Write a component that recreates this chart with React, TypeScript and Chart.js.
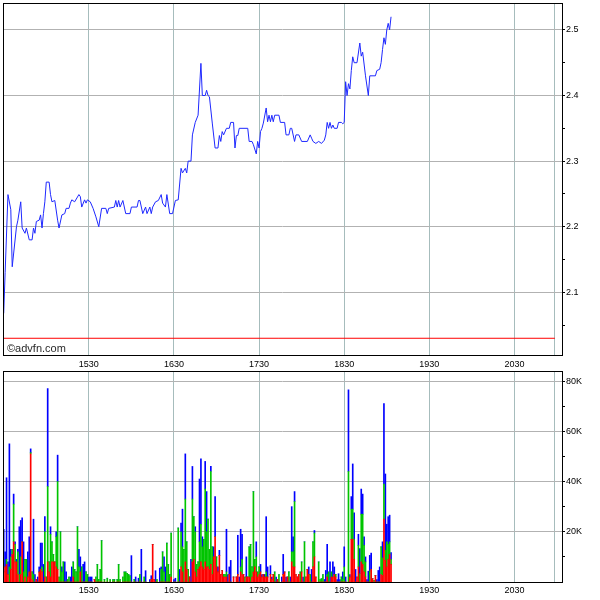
import React, { useEffect, useRef } from 'react';
import { Chart, registerables } from 'chart.js';

Chart.register(...registerables);

// ---- axis / reference values ----
const OPEN_MINUTE = 870; // 14:30, minutes of the day
const X_MIN = -0.5;
const X_MAX = 393.5;
const TIME_TICKS = [60, 120, 180, 240, 300, 360];
const CLOSE_MARK = 388;
const PRICE_MIN = 2.0045;
const PRICE_MAX = 2.541;
const PRICE_TICKS = [2.05, 2.1, 2.15, 2.2, 2.25, 2.3, 2.35, 2.4, 2.45, 2.5];
const REF_PRICE = 2.03;
const VOL_MAX = 84; // thousands
const VOL_TICKS = [10, 20, 30, 40, 50, 60, 70, 80];

// ---- price series (minutes after 14:30, price) ----
const priceTimes = [
  0, 1, 3, 5, 6, 9, 10, 12, 13, 15, 16, 18, 20, 21, 22, 23, 25, 26, 27, 28, 29, 30, 32, 33, 34, 36, 38, 39,
  41, 43, 44, 46, 47, 48, 50, 53, 54, 55, 57, 58, 59, 61, 63, 65, 67, 69, 72, 73, 74, 78, 79, 80, 81, 82,
  84, 86, 89, 90, 94, 95, 96, 98, 100, 101, 103, 104, 105, 107, 109, 111, 112, 114, 115, 117, 119, 121,
  123, 125, 126, 128, 129, 130, 132, 133, 135, 137, 139, 140, 142, 143, 144, 145, 147, 149, 151, 152, 153,
  154, 155, 157, 159, 160, 162, 163, 164, 165, 166, 172, 173, 175, 176, 178, 179, 180, 181, 182, 183, 185,
  186, 187, 188, 189, 190, 191, 194, 195, 198, 199, 201, 202, 203, 205, 206, 208, 210, 214, 216, 217, 218,
  220, 222, 224, 226, 227, 228, 229, 230, 231, 232, 233, 235, 236, 238, 239, 240, 241, 242, 243, 244, 245,
  246, 247, 249, 251, 252, 253, 255, 257, 258, 262, 263, 265, 266, 267, 268, 269, 270, 271, 272, 273,
];
const priceValues = [
  2.068, 2.13, 2.249, 2.226, 2.139, 2.2, 2.21, 2.238, 2.198, 2.19, 2.198, 2.18, 2.18, 2.198, 2.19, 2.208,
  2.21, 2.218, 2.198, 2.22, 2.238, 2.268, 2.268, 2.249, 2.238, 2.24, 2.21, 2.198, 2.218, 2.22, 2.228, 2.228,
  2.236, 2.241, 2.238, 2.249, 2.246, 2.23, 2.241, 2.236, 2.241, 2.238, 2.228, 2.215, 2.2, 2.228, 2.228,
  2.22, 2.228, 2.23, 2.24, 2.23, 2.24, 2.23, 2.24, 2.22, 2.22, 2.23, 2.23, 2.24, 2.24, 2.22, 2.23, 2.22,
  2.23, 2.22, 2.23, 2.238, 2.24, 2.249, 2.236, 2.23, 2.249, 2.22, 2.22, 2.24, 2.241, 2.289, 2.282, 2.289,
  2.282, 2.3, 2.3, 2.34, 2.359, 2.37, 2.449, 2.4, 2.4, 2.408, 2.4, 2.398, 2.358, 2.32, 2.32, 2.339, 2.33,
  2.345, 2.34, 2.35, 2.35, 2.359, 2.359, 2.32, 2.339, 2.339, 2.35, 2.35, 2.33, 2.33, 2.325, 2.311, 2.33,
  2.32, 2.345, 2.35, 2.358, 2.381, 2.36, 2.37, 2.36, 2.37, 2.36, 2.37, 2.37, 2.359, 2.359, 2.34, 2.34, 2.35,
  2.35, 2.33, 2.34, 2.34, 2.33, 2.33, 2.34, 2.335, 2.33, 2.327, 2.33, 2.327, 2.332, 2.34, 2.359, 2.35,
  2.359, 2.35, 2.355, 2.35, 2.35, 2.359, 2.359, 2.357, 2.359, 2.421, 2.4, 2.418, 2.41, 2.438, 2.459, 2.45,
  2.45, 2.48, 2.46, 2.466, 2.43, 2.4, 2.43, 2.43, 2.438, 2.44, 2.45, 2.47, 2.488, 2.478, 2.5, 2.51, 2.5, 2.52,
];

// ---- volume series (minutes after 14:30; stacked parts in thousands) ----
const volTimes = [
  0, 1, 2, 3, 4, 5, 6, 7, 8, 9, 10, 11, 12, 13, 14, 15, 16, 17, 18, 19, 20, 21, 22, 23, 24, 25, 26, 27, 28,
  29, 30, 31, 32, 33, 34, 35, 36, 37, 38, 39, 40, 41, 42, 43, 44, 45, 46, 47, 48, 49, 50, 51, 52, 53, 54,
  55, 56, 57, 58, 59, 60, 61, 62, 64, 65, 66, 67, 68, 69, 71, 73, 75, 77, 78, 80, 81, 82, 84, 85, 86, 87,
  88, 89, 90, 92, 93, 95, 96, 97, 99, 100, 103, 104, 105, 106, 107, 108, 110, 111, 112, 113, 114, 115, 116,
  117, 118, 120, 121, 123, 124, 125, 126, 127, 128, 129, 130, 131, 132, 133, 134, 135, 136, 137, 138, 139,
  140, 141, 142, 143, 144, 145, 146, 147, 148, 149, 150, 151, 152, 153, 154, 155, 156, 157, 158, 159, 160,
  162, 164, 165, 166, 167, 168, 169, 170, 171, 172, 173, 174, 175, 176, 177, 178, 179, 180, 181, 182, 183,
  184, 185, 186, 188, 189, 190, 191, 192, 193, 194, 196, 197, 198, 199, 200, 201, 202, 203, 204, 205, 206,
  207, 208, 209, 210, 211, 212, 213, 214, 215, 216, 217, 218, 219, 220, 222, 223, 224, 225, 226, 227, 228,
  229, 230, 231, 232, 233, 234, 235, 236, 237, 238, 239, 240, 241, 243, 244, 245, 246, 247, 248, 249, 250,
  251, 252, 253, 254, 255, 256, 257, 258, 259, 260, 261, 262, 263, 264, 265, 266, 267, 268, 269, 270, 271,
  272, 273,
];
const volRed = [
  4, 6, 7, 3, 0, 5, 11, 16, 8, 8, 3, 0, 3, 16, 0, 2, 0, 2, 4, 51, 1, 0, 0, 1, 0, 4, 5, 4, 0,
  2, 0, 8, 4, 2, 8, 8, 8, 6, 5, 0, 0, 0, 0, 0, 0, 0, 0, 0, 0, 2, 0, 0, 0, 0, 4,
  0, 0, 0, 0, 0, 0, 0, 0, 1, 0, 0, 0, 0, 0, 0, 0, 0, 0, 0, 0, 0, 0, 0, 0, 0, 0,
  0, 0, 0, 0, 0, 0, 0, 0, 0, 0, 0, 1, 15, 1, 0, 0, 0, 0, 0, 0, 0, 0, 0,
  0, 2, 0, 0, 0, 0, 6, 4, 0, 8, 5, 0, 2, 0, 8, 9, 4, 2, 5, 6, 8,
  6, 5, 8, 6, 6, 5, 7, 3, 10, 18, 6, 4, 10.6, 3, 4.6, 2, 2, 2, 0, 3, 0,
  2, 2, 3, 0, 4, 3, 3, 0, 2, 2, 2, 0, 2, 4, 6, 4, 2, 3, 4, 2, 3,
  2, 2, 2, 3, 1, 3, 0, 0, 1, 0, 0, 3, 4, 0, 2, 0, 0, 8, 6, 6, 3,
  2, 3, 0, 4, 0, 0, 2, 5, 3, 0, 0, 6, 10, 2, 0, 0, 0, 0, 0, 0, 2,
  0, 0, 2, 2, 3, 2, 0, 0, 0, 0, 0, 0, 0, 0, 2, 17, 17, 9, 0, 2, 6,
  0, 8, 7, 4, 2, 0, 0, 0, 5, 1.3, 0, 2.6, 0, 0, 0, 3, 2.6, 25, 8.6, 6, 9,
  11, 7,
];
const volGreen = [
  0, 0, 2, 0, 6, 5, 2, 15, 7, 0, 9, 3, 7, 0, 4, 7, 9, 0, 0, 0.5, 3, 3, 0, 0, 0, 0, 0, 2, 0,
  18, 2, 30, 4, 17, 8, 3, 0, 12, 35, 2, 20, 4, 8, 0, 0, 1, 2, 0, 0, 6, 5, 4, 22, 6, 0,
  6, 0, 0, 4, 3, 0, 0, 0, 0, 2, 7, 1, 5, 16.5, 1, 1.5, 1, 1, 1, 1, 7, 1, 2, 4, 4, 3.5,
  3, 2.5, 0, 1, 0, 0, 3, 0, 2, 0, 0, 0, 0, 0, 0, 1, 0, 5, 12, 4, 0, 15.5, 7,
  3, 17.5, 0, 0, 21.5, 0, 14, 10, 13, 25, 11, 5, 0, 0, 25, 17, 16, 5, 3, 10, 15,
  8, 12, 29, 14, 19, 8, 37, 11, 0, 0, 4, 0, 0, 0, 0, 1, 1, 2, 0, 0, 0,
  0, 0, 0, 0, 2, 6, 0, 2, 0, 0, 12, 15, 4, 32, 3, 6, 2, 3, 0, 0, 0,
  0, 2, 0, 0, 0, 0, 4, 0, 0, 3, 0, 0, 0, 0, 0, 4, 0, 4, 6, 26, 0,
  0, 0, 4, 4, 0, 16, 0, 0, 0, 3, 0, 10, 9.5, 0, 8, 1, 1.3, 3, 0, 0, 1,
  4, 0, 2, 0, 0, 1, 0, 0, 0, 2, 1, 6, 0, 44, 0, 12, 12, 8, 0, 0, 8.6,
  3.3, 19, 20, 10.6, 6, 0, 0, 4.4, 0, 0, 0.7, 0, 0, 0, 0, 11, 7, 14, 4, 10, 6,
  5, 2,
];
const volBlue = [
  17, 6, 32.5, 5, 49, 3, 0, 4, 1, 1, 1, 19, 14.5, 9.5, 12, 0, 0, 10, 14, 1.5, 0, 22, 3, 0, 2, 2, 10.5, 9.5, 7,
  6, 0, 39, 0, 3, 0, 0, 0, 2, 10.5, 0, 0, 2, 0, 8, 4, 0, 0, 2, 6, 0, 0, 0, 0, 7, 6,
  0, 7, 8, 0, 0, 2, 2, 2, 0, 0, 0, 0, 0, 0, 0, 0, 0, 0, 0, 0, 0, 0, 0, 0, 0, 0,
  0, 0, 10.5, 0, 2, 1.5, 0, 13, 0, 4.5, 1, 1.5, 0, 0, 4.5, 0, 5.5, 1, 0, 6, 6, 0, 0,
  0, 0, 1, 1.5, 0, 5, 3.5, 15, 0, 18, 0, 0, 0, 9, 13, 0, 2, 0, 0, 25, 26,
  4, 0, 11, 16, 0, 0, 2, 0, 4, 16, 0, 2, 2, 0, 0, 0, 0, 17, 3, 3, 8.6,
  0, 0, 15.6, 2, 15, 10, 0, 0, 8, 0, 0, 0, 0, 0, 0, 6, 0, 0, 3, 1, 0,
  1, 22, 4, 3.5, 1, 0, 0, 2, 0, 0, 2, 8, 0, 2, 0, 0, 2, 18, 6, 4, 0,
  0, 0, 0, 0, 2, 0, 0, 0, 3, 0, 5, 0, 1, 0, 0, 0, 0, 0, 1, 4.6, 12,
  0, 8, 0, 6, 3, 0, 1, 3.3, 1, 0, 3, 8, 2, 32.5, 1, 5, 18, 10.5, 5, 0, 4.4,
  10, 10, 8, 3.4, 2, 1, 4.3, 6.2, 6.5, 0, 0, 0, 1, 4.6, 6, 0, 6.4, 32, 30.4, 7, 11,
  10.6, 2.7,
];

// ---- helpers ----
const FONT_FAMILY = '"Liberation Sans", Arial, sans-serif';
const FONT = { family: FONT_FAMILY, size: 9 };
const H_GRID = '#b2b2b2';
const V_GRID = '#a6bcbc';

function timeLabel(v: number): string {
  if (v === CLOSE_MARK) return '';
  const m = OPEN_MINUTE + v;
  const hh = Math.floor(m / 60);
  const mm = m % 60;
  return `${hh}${String(mm).padStart(2, '0')}`;
}
const isMajorPrice = (v: number) => Math.abs(v * 10 - Math.round(v * 10)) < 1e-6;
const isMajorVol = (v: number) => v % 20 === 0;

const noPadV = (s: any) => { s.paddingTop = 0; s.paddingBottom = 0; };
const noPadH = (s: any) => { s.paddingLeft = 0; s.paddingRight = 0; };

const framePlugin = {
  id: 'frame',
  afterDraw(chart: any) {
    const { ctx, chartArea: a } = chart;
    ctx.save();
    ctx.strokeStyle = '#000';
    ctx.lineWidth = 1;
    ctx.strokeRect(Math.round(a.left) + 0.5, Math.round(a.top) + 0.5, Math.round(a.right - a.left), Math.round(a.bottom - a.top));
    ctx.restore();
  },
};

const watermarkPlugin = {
  id: 'watermark',
  afterDraw(chart: any) {
    const { ctx, chartArea: a } = chart;
    ctx.save();
    ctx.fillStyle = '#2a2a2a';
    ctx.font = `11px ${FONT_FAMILY}`;
    ctx.textBaseline = 'alphabetic';
    ctx.fillText('©advfn.com', a.left + 4, a.bottom - 3);
    ctx.restore();
  },
};

// time labels above the volume panel
const topLabelsPlugin = {
  id: 'topLabels',
  afterDraw(chart: any) {
    const { ctx, chartArea: a, scales } = chart;
    const xs = scales.x;
    ctx.save();
    ctx.fillStyle = '#000';
    ctx.font = `9px ${FONT_FAMILY}`;
    ctx.textAlign = 'center';
    ctx.textBaseline = 'bottom';
    TIME_TICKS.forEach((v) => {
      ctx.fillText(timeLabel(v), xs.getPixelForValue(v), a.top - 2);
    });
    ctx.restore();
  },
};

const timeTicks = (scale: any) => {
  scale.ticks = [...TIME_TICKS, CLOSE_MARK].map((v) => ({ value: v }));
};

export default function App() {
  const priceRef = useRef<HTMLCanvasElement>(null);
  const volRef = useRef<HTMLCanvasElement>(null);

  useEffect(() => {
    const priceData = priceTimes.map((t, i) => ({ x: t, y: priceValues[i] }));
    const refData = [
      { x: X_MIN, y: REF_PRICE },
      { x: CLOSE_MARK + 0.5, y: REF_PRICE },
    ];

    const c1 = new Chart(priceRef.current!, {
      type: 'line',
      data: {
        datasets: [
          { data: priceData, borderColor: 'rgb(30,40,255)', borderWidth: 1, pointRadius: 0, tension: 0, order: 1 },
          { data: refData, borderColor: '#ff0000', borderWidth: 1, pointRadius: 0, order: 2 },
        ],
      },
      options: {
        animation: false,
        responsive: false,
        devicePixelRatio: 1,
        layout: { padding: { left: 3, top: 3, right: 0, bottom: 0 } },
        plugins: { legend: { display: false }, tooltip: { enabled: false } },
        scales: {
          x: {
            type: 'linear',
            offset: false,
            min: X_MIN,
            max: X_MAX,
            afterBuildTicks: timeTicks,
            afterFit: (s: any) => { s.height = 1; noPadH(s); },
            ticks: { display: false },
            grid: { color: V_GRID, drawTicks: false, offset: false },
            border: { display: false },
          },
          y: {
            position: 'right',
            min: PRICE_MIN,
            max: PRICE_MAX,
            afterBuildTicks: (s: any) => { s.ticks = PRICE_TICKS.map((v) => ({ value: v })); },
            afterFit: (s: any) => { s.width = 38; noPadV(s); },
            ticks: {
              autoSkip: false,
              padding: 1,
              color: '#000',
              font: FONT,
              callback: (v: any) => (isMajorPrice(Number(v)) ? Number(v).toFixed(1) : ''),
            },
            grid: {
              color: (ctx: any) => (ctx.tick && isMajorPrice(ctx.tick.value) ? H_GRID : 'rgba(0,0,0,0)'),
              tickColor: '#000',
              tickLength: 3,
            },
            border: { display: false },
          },
        },
      },
      plugins: [framePlugin, watermarkPlugin],
    });

    const mk = (arr: number[]) => volTimes.map((t, i) => ({ x: t, y: arr[i] }));
    const barCommon = { barThickness: 1, borderWidth: 0, stack: 'v' };
    const c2 = new Chart(volRef.current!, {
      type: 'bar',
      data: {
        datasets: [
          { ...barCommon, data: mk(volRed), backgroundColor: '#ff0000' },
          { ...barCommon, data: mk(volGreen), backgroundColor: '#00c400' },
          { ...barCommon, data: mk(volBlue), backgroundColor: '#0000ff' },
        ],
      },
      options: {
        animation: false,
        responsive: false,
        devicePixelRatio: 1,
        layout: { padding: { left: 3, top: 15, right: 0, bottom: 0 } },
        plugins: { legend: { display: false }, tooltip: { enabled: false } },
        scales: {
          x: {
            type: 'linear',
            position: 'bottom',
            offset: false,
            stacked: true,
            min: X_MIN,
            max: X_MAX,
            afterBuildTicks: timeTicks,
            afterFit: (s: any) => { s.height = 18; noPadH(s); },
            ticks: { autoSkip: false, maxRotation: 0, padding: 3, color: '#000', font: FONT, callback: (v: any) => timeLabel(Number(v)) },
            grid: { color: V_GRID, drawTicks: false, offset: false },
            border: { display: false },
          },
          y: {
            position: 'right',
            stacked: true,
            min: 0,
            max: VOL_MAX,
            afterBuildTicks: (s: any) => { s.ticks = VOL_TICKS.map((v) => ({ value: v })); },
            afterFit: (s: any) => { s.width = 38; noPadV(s); },
            ticks: {
              autoSkip: false,
              padding: 1,
              color: '#000',
              font: FONT,
              callback: (v: any) => (isMajorVol(Number(v)) ? `${v}K` : ''),
            },
            grid: {
              color: (ctx: any) => (ctx.tick && isMajorVol(ctx.tick.value) ? H_GRID : 'rgba(0,0,0,0)'),
              tickColor: '#000',
              tickLength: 3,
            },
            border: { display: false },
          },
        },
      },
      plugins: [framePlugin, topLabelsPlugin],
    });

    return () => {
      c1.destroy();
      c2.destroy();
    };
  }, []);

  return (
    <div style={{ position: 'absolute', left: 0, top: 0, width: 600, height: 600, background: '#fff' }}>
      <canvas ref={priceRef} width={600} height={356} style={{ position: 'absolute', left: 0, top: 0 }} />
      <canvas ref={volRef} width={600} height={244} style={{ position: 'absolute', left: 0, top: 356 }} />
    </div>
  );
}
